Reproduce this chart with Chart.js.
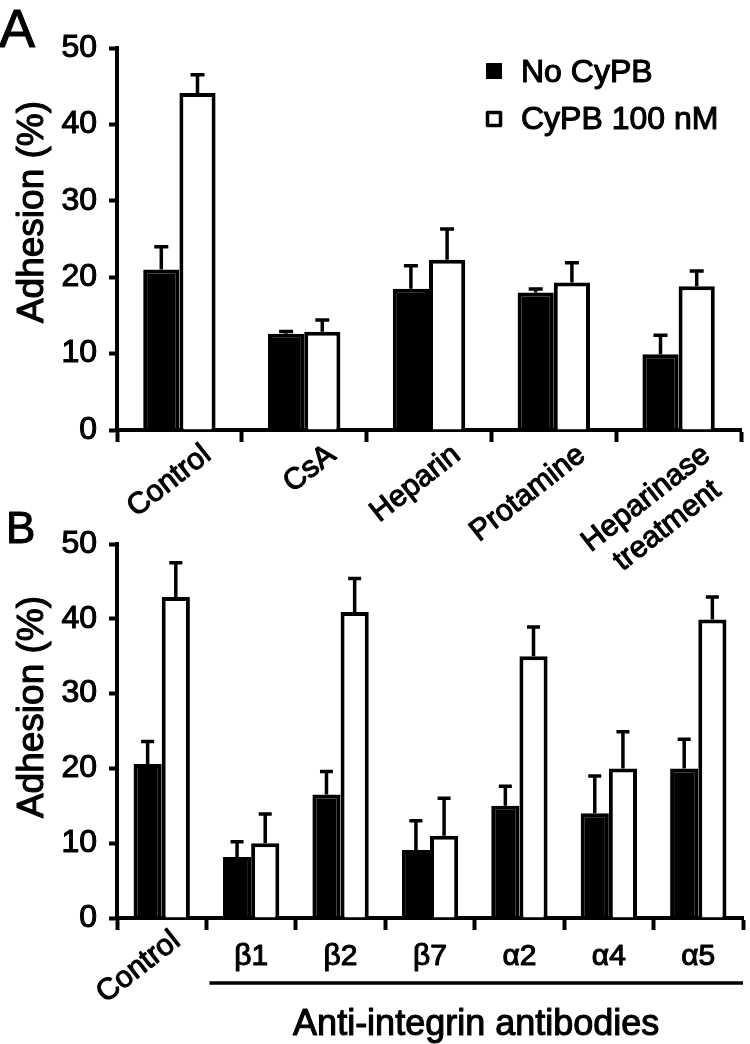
<!DOCTYPE html>
<html>
<head>
<meta charset="utf-8">
<script src="https://cdn.jsdelivr.net/npm/chart.js@4"></script>
<style>
  body { margin: 0; background: #fff; }
  #wrap { position: relative; width: 750px; height: 1044px; }
  canvas { position: absolute; left: 0; }
  #chartA { top: 0; }
  #chartB { top: 500px; }
</style>
</head>
<body>
<div id="wrap">
  <canvas id="chartA" width="750" height="600"></canvas>
  <canvas id="chartB" width="750" height="544"></canvas>
</div>
<script>
// panel A
const categoriesA = ["Control", "CsA", "Heparin", "Protamine", ["Heparinase", "treatment"]];
const noCypbA = [21.0, 12.6, 18.5, 18.0, 9.9];
const noCypbErrA = [3.0, 0.3, 3.0, 0.45, 2.5];
const cypbA = [44.1, 12.85, 22.3, 19.3, 18.8];
const cypbErrA = [2.4, 1.55, 4.0, 2.6, 2.0];

// panel B
const categoriesB = ["Control", "β1", "β2", "β7", "α2", "α4", "α5"];
const noCypbB = [20.6, 8.15, 16.5, 9.1, 15.0, 14.0, 20.0];
const noCypbErrB = [3.0, 2.05, 3.1, 3.9, 2.6, 5.0, 3.9];
const cypbB = [42.9, 10.0, 40.9, 11.0, 35.0, 20.0, 39.9];
const cypbErrB = [4.6, 3.9, 4.5, 5.0, 3.9, 4.9, 3.0];

const yTicks = [0, 10, 20, 30, 40, 50];
const seriesNames = ["No CyPB", "CyPB 100 nM"];
const groupLabel = "Anti-integrin antibodies";
const yTitle = "Adhesion (%)";

const FONT = "'Liberation Sans', Arial, Helvetica, sans-serif";
const TEXT_STROKE = 1.1; // scanned print looks heavier than regular
Chart.defaults.font.family = FONT;
Chart.defaults.color = "#000";

function font(px) {
  return px + "px " + FONT;
}

function heavyText(ctx, str, x, y) {
  ctx.lineWidth = TEXT_STROKE;
  ctx.strokeStyle = "#000";
  ctx.lineJoin = "round";
  ctx.strokeText(str, x, y);
  ctx.fillText(str, x, y);
}

// upward-only error bars with a cap
const errorBars = {
  id: "errorBars",
  afterDatasetsDraw(chart) {
    const ctx = chart.ctx;
    const y = chart.scales.y;
    const cap = chart.options.plugins.errorBars.cap;
    chart.data.datasets.forEach((ds, di) => {
      chart.getDatasetMeta(di).data.forEach((bar, i) => {
        const top = y.getPixelForValue(ds.data[i] + ds.errors[i]);
        ctx.save();
        ctx.strokeStyle = "#000";
        ctx.lineWidth = 3.5;
        ctx.beginPath();
        ctx.moveTo(bar.x, bar.y);
        ctx.lineTo(bar.x, top);
        ctx.moveTo(bar.x - cap, top);
        ctx.lineTo(bar.x + cap, top);
        ctx.stroke();
        ctx.restore();
      });
    });
  }
};

function rotatedLabel(ctx, label, x, y, px, deg) {
  const lines = Array.isArray(label) ? label : [label];
  ctx.save();
  ctx.translate(x, y);
  ctx.rotate(-deg * Math.PI / 180);
  ctx.font = font(px);
  ctx.fillStyle = "#000";
  ctx.textAlign = "right";
  ctx.textBaseline = "alphabetic";
  const widths = lines.map(l => ctx.measureText(l).width);
  const maxW = Math.max(...widths);
  lines.forEach((l, i) => heavyText(ctx, l, -(maxW - widths[i]) / 2, i * px * 1.15));
  ctx.restore();
}

function yAxisTitle(ctx, x, y) {
  ctx.save();
  ctx.translate(x, y);
  ctx.rotate(-Math.PI / 2);
  ctx.font = font(37);
  ctx.fillStyle = "#000";
  ctx.textAlign = "center";
  ctx.textBaseline = "alphabetic";
  heavyText(ctx, yTitle, 0, 0);
  ctx.restore();
}

function makeDatasets(noVals, noErr, yesVals, yesErr) {
  return [
    { label: seriesNames[0], data: noVals, errors: noErr, backgroundColor: "#000", borderColor: "#000", borderWidth: 4 },
    { label: seriesNames[1], data: yesVals, errors: yesErr, backgroundColor: "#fff", borderColor: "#000", borderWidth: 4 }
  ];
}

function makeOptions(padTop, padRight, xHeight, pct, cap) {
  return {
    responsive: false,
    animation: false,
    layout: { padding: { top: padTop, right: padRight, left: 0, bottom: 0 } },
    datasets: { bar: { categoryPercentage: pct, barPercentage: 1.0 } },
    plugins: {
      legend: { display: false },
      tooltip: { enabled: false },
      errorBars: { cap: cap }
    },
    scales: {
      x: {
        ticks: { display: false },
        grid: { drawOnChartArea: false, drawTicks: true, tickLength: 12, tickWidth: 4, tickColor: "#000" },
        border: { display: true, width: 4, color: "#000" },
        afterFit(scale) { scale.height = xHeight; }
      },
      y: {
        min: 0,
        max: 50,
        afterBuildTicks(scale) { scale.ticks = yTicks.map(v => ({ value: v })); },
        ticks: { font: { size: 32 }, color: "#000", padding: 12, textStrokeWidth: TEXT_STROKE, textStrokeColor: "#000" },
        grid: { drawOnChartArea: false, drawTicks: true, tickLength: 8, tickWidth: 4, tickColor: "#000" },
        border: { display: true, width: 4, color: "#000" },
        afterFit(scale) { scale.width = 117; }
      }
    }
  };
}

const decorA = {
  id: "decorA",
  afterDraw(chart) {
    const ctx = chart.ctx;
    const x = chart.scales.x;
    ctx.save();
    ctx.fillStyle = "#000";
    ctx.font = font(54);
    ctx.textAlign = "left";
    heavyText(ctx, "A", -1, 47);

    // legend
    const ds = chart.data.datasets;
    ctx.fillRect(486, 63, 16, 16);
    ctx.fillStyle = "#fff";
    ctx.strokeStyle = "#000";
    ctx.lineWidth = 3.5;
    ctx.fillRect(487.5, 112.5, 13, 13);
    ctx.strokeRect(487.5, 112.5, 13, 13);
    ctx.fillStyle = "#000";
    ctx.font = font(32);
    heavyText(ctx, ds[0].label, 521, 82);
    heavyText(ctx, ds[1].label, 521, 129);
    ctx.restore();

    yAxisTitle(ctx, 43, 212);
    chart.data.labels.forEach((lab, i) => {
      rotatedLabel(ctx, lab, x.getPixelForValue(i) + 33, 458, 30, 38);
    });
  }
};

const decorB = {
  id: "decorB",
  afterDraw(chart) {
    const ctx = chart.ctx;
    const x = chart.scales.x;
    const area = chart.chartArea;
    ctx.save();
    ctx.fillStyle = "#000";
    ctx.font = font(44);
    ctx.textAlign = "left";
    heavyText(ctx, "B", 6, 43);
    ctx.restore();

    yAxisTitle(ctx, 43, 207);

    chart.data.labels.forEach((lab, i) => {
      if (i === 0) {
        rotatedLabel(ctx, lab, x.getPixelForValue(i) + 20, 444, 30, 38);
      } else {
        ctx.save();
        ctx.font = font(30);
        ctx.fillStyle = "#000";
        ctx.textAlign = "center";
        heavyText(ctx, lab, x.getPixelForValue(i), 465);
        ctx.restore();
      }
    });

    // bracket line under the antibody groups
    const left = (x.getPixelForValue(0) + x.getPixelForValue(1)) / 2 + 3;
    const right = area.right;
    ctx.save();
    ctx.strokeStyle = "#000";
    ctx.lineWidth = 3.5;
    ctx.beginPath();
    ctx.moveTo(left, 483);
    ctx.lineTo(right, 483);
    ctx.stroke();
    ctx.font = font(36);
    ctx.fillStyle = "#000";
    ctx.textAlign = "center";
    heavyText(ctx, groupLabel, (left + right) / 2, 535);
    ctx.restore();
  }
};

new Chart(document.getElementById("chartA"), {
  type: "bar",
  data: { labels: categoriesA, datasets: makeDatasets(noCypbA, noCypbErrA, cypbA, cypbErrA) },
  options: makeOptions(48, 9, 170, 0.58, 7),
  plugins: [errorBars, decorA]
});

new Chart(document.getElementById("chartB"), {
  type: "bar",
  data: { labels: categoriesB, datasets: makeDatasets(noCypbB, noCypbErrB, cypbB, cypbErrB) },
  options: makeOptions(44, 7, 126, 0.63, 6.5),
  plugins: [errorBars, decorB]
});
</script>
</body>
</html>
